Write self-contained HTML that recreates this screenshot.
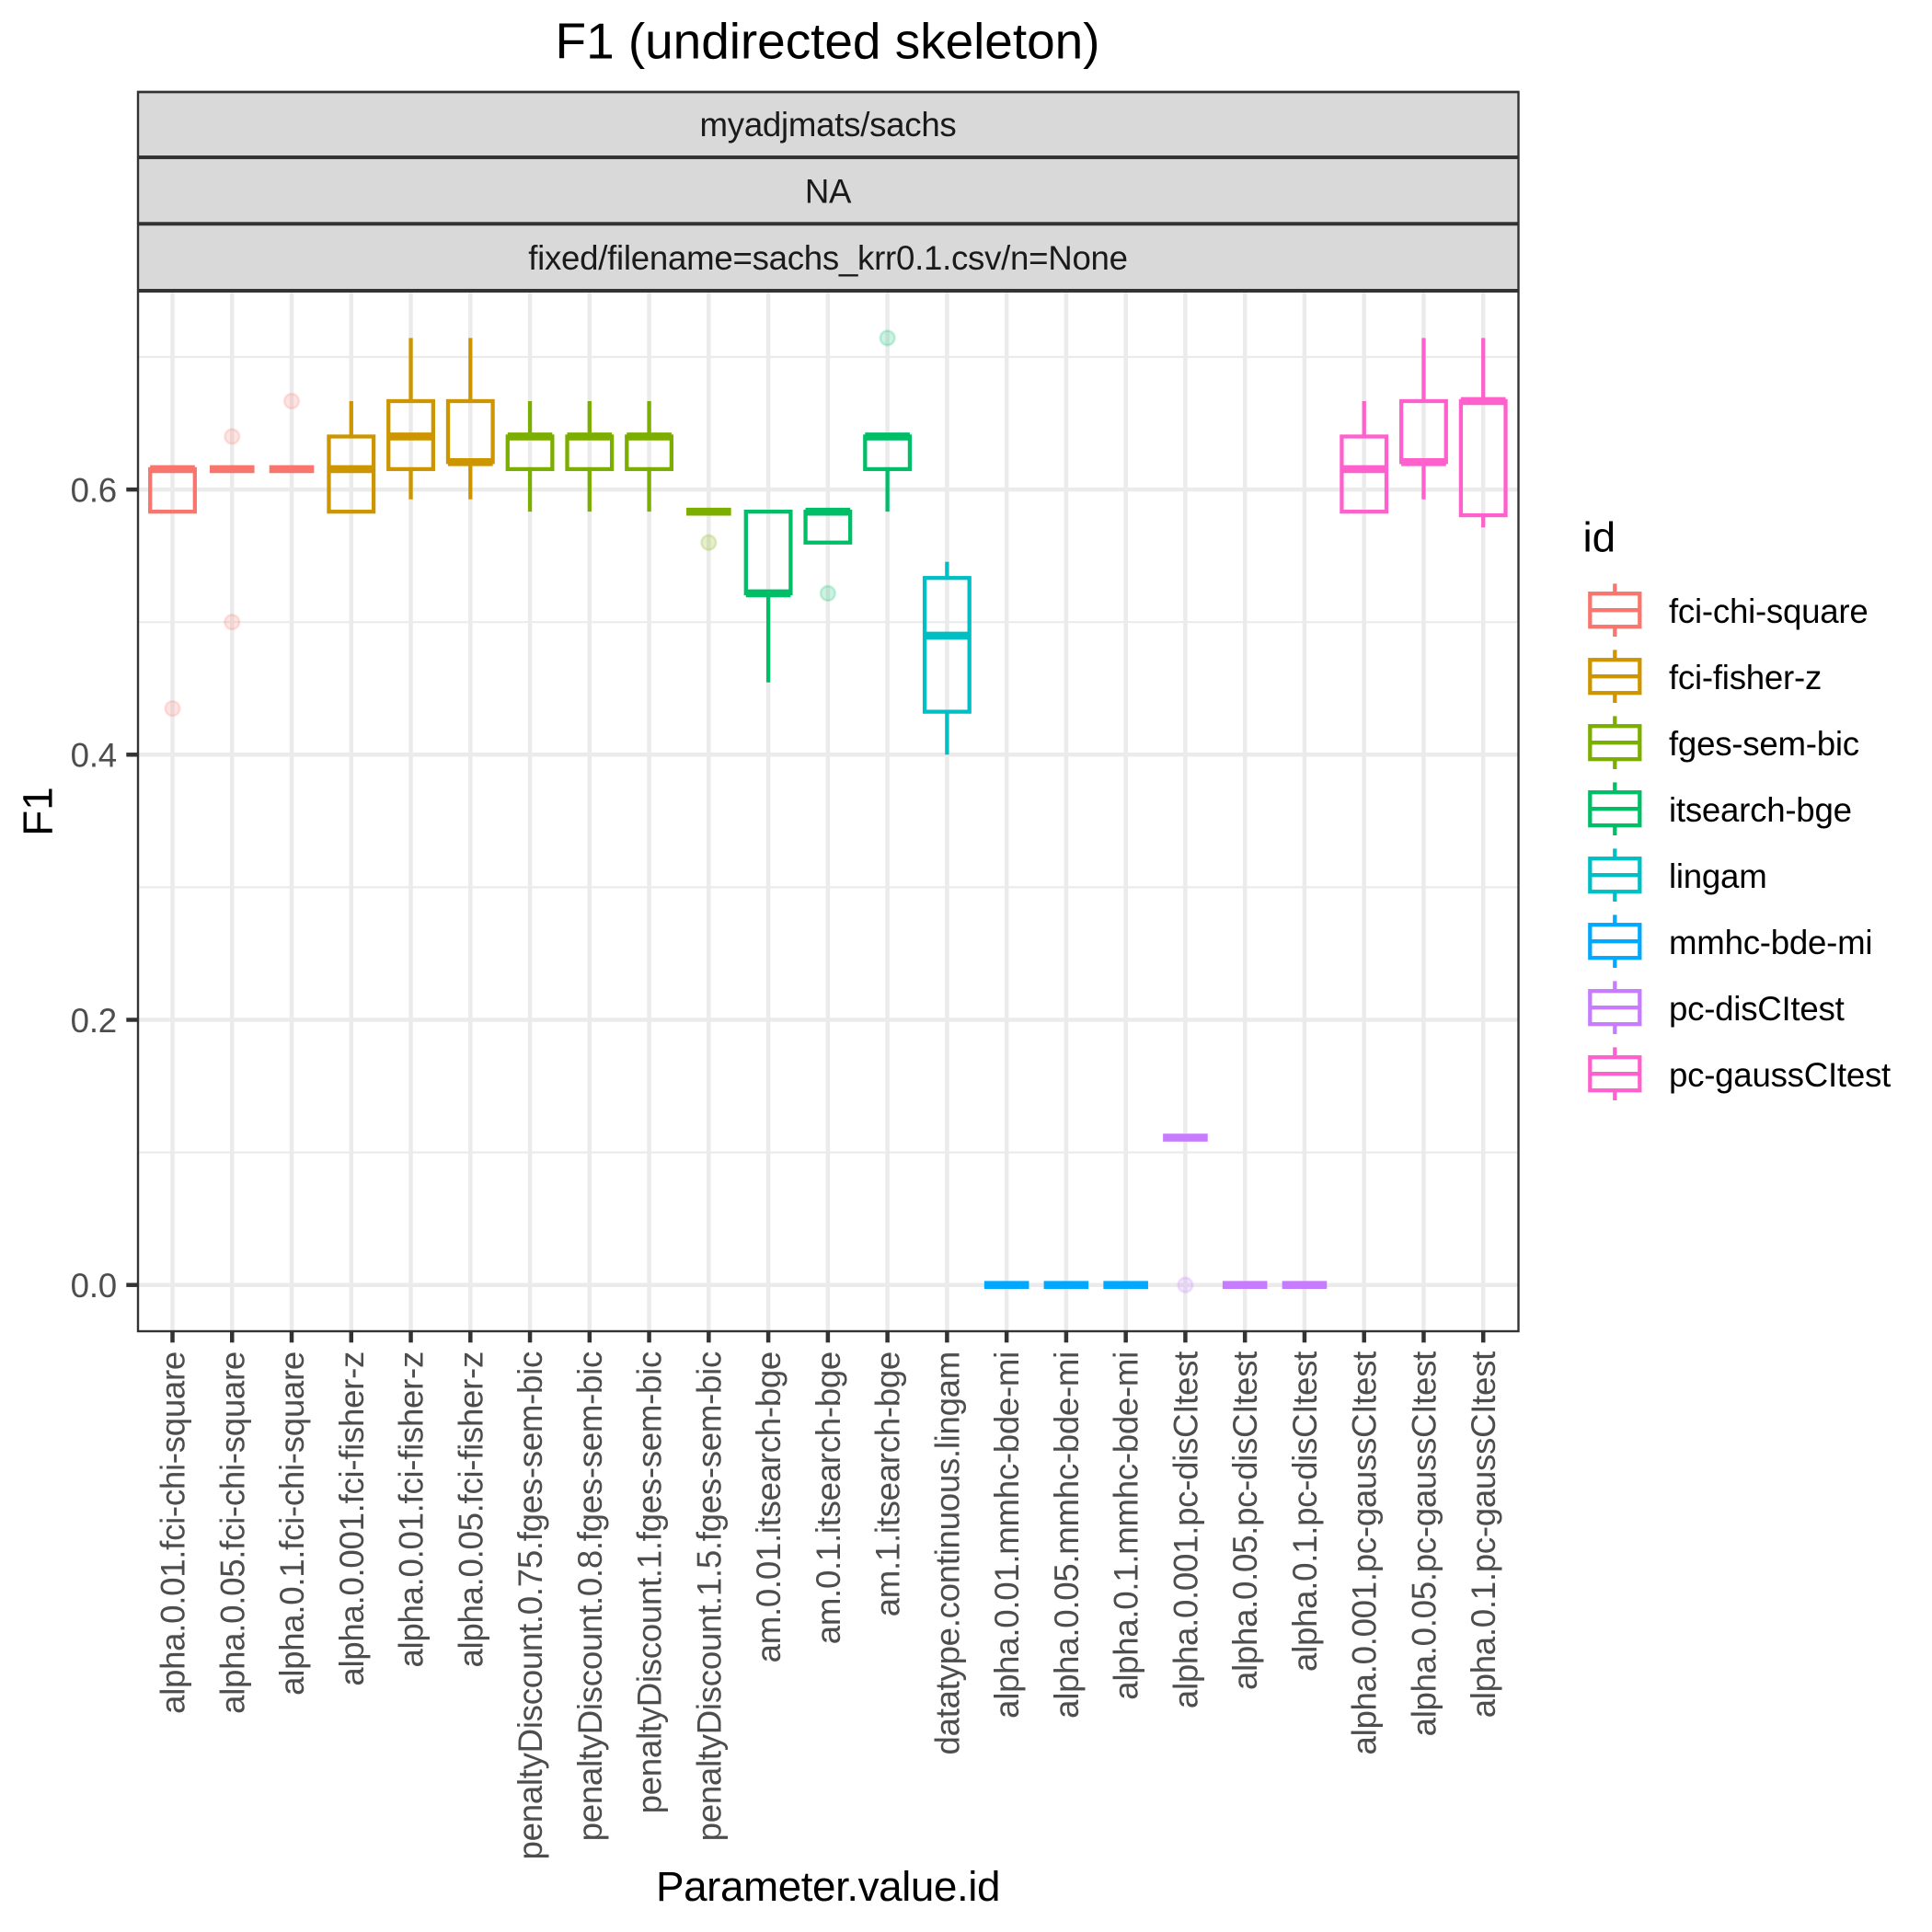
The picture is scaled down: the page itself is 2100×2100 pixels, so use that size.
<!DOCTYPE html>
<html lang="en">
<head>
<meta charset="utf-8">
<title>F1 (undirected skeleton)</title>
<style>
html,body{margin:0;padding:0;background:#fff;}
svg{display:block;font-family:"Liberation Sans",Arial,Helvetica,sans-serif;}
</style>
</head>
<body>
<svg id="chart" xmlns="http://www.w3.org/2000/svg" width="2100" height="2100" viewBox="0 0 2100 2100">
  <rect x="0" y="0" width="2100" height="2100" fill="#ffffff"/>
  <text x="899.5" y="63.5" font-size="55" letter-spacing="-0.05" text-anchor="middle" fill="#000">F1 (undirected skeleton)</text>
  <g id="grid"></g>
  <g id="marks"></g>
  <g>
    <rect x="150" y="100" width="1500.5" height="71.4" fill="#D9D9D9"/>
    <rect x="150" y="171.4" width="1500.5" height="72.3" fill="#D9D9D9"/>
    <rect x="150" y="243.7" width="1500.5" height="72.3" fill="#D9D9D9"/>
    <line x1="149" x2="1651" y1="100" y2="100" stroke="#333" stroke-width="2.4"/>
    <line x1="149" x2="1651" y1="171" y2="171" stroke="#333" stroke-width="4"/>
    <line x1="149" x2="1651" y1="243.2" y2="243.2" stroke="#333" stroke-width="4"/>
    <line x1="149" x2="1651" y1="316" y2="316" stroke="#333" stroke-width="4"/>
    <text x="900" y="148" font-size="36.67" letter-spacing="-0.28" text-anchor="middle" fill="#1A1A1A">myadjmats/sachs</text>
    <text x="900" y="220.5" font-size="36.67" letter-spacing="-0.28" text-anchor="middle" fill="#1A1A1A">NA</text>
    <text x="900" y="293" font-size="36.67" letter-spacing="-0.28" text-anchor="middle" fill="#1A1A1A">fixed/filename=sachs_krr0.1.csv/n=None</text>
  </g>
  <rect x="150" y="100" width="1500.5" height="1347" fill="none" stroke="#333" stroke-width="2.4"/>
  <g id="axes"></g>
  <text x="900" y="2066" font-size="45.83" letter-spacing="-0.45" text-anchor="middle" fill="#000">Parameter.value.id</text>
  <text transform="translate(56.5,882) rotate(-90)" font-size="45.83" text-anchor="middle" fill="#000">F1</text>
  <g id="legend">
    <text x="1720.5" y="599.6" font-size="45.83" fill="#000">id</text>
  </g>
</svg>
<script>
// ---- data ----
const categories = [
  "alpha.0.01.fci-chi-square","alpha.0.05.fci-chi-square","alpha.0.1.fci-chi-square",
  "alpha.0.001.fci-fisher-z","alpha.0.01.fci-fisher-z","alpha.0.05.fci-fisher-z",
  "penaltyDiscount.0.75.fges-sem-bic","penaltyDiscount.0.8.fges-sem-bic","penaltyDiscount.1.fges-sem-bic","penaltyDiscount.1.5.fges-sem-bic",
  "am.0.01.itsearch-bge","am.0.1.itsearch-bge","am.1.itsearch-bge",
  "datatype.continuous.lingam",
  "alpha.0.01.mmhc-bde-mi","alpha.0.05.mmhc-bde-mi","alpha.0.1.mmhc-bde-mi",
  "alpha.0.001.pc-disCItest","alpha.0.05.pc-disCItest","alpha.0.1.pc-disCItest",
  "alpha.0.001.pc-gaussCItest","alpha.0.05.pc-gaussCItest","alpha.0.1.pc-gaussCItest"
];
const seriesIds = ["fci-chi-square","fci-fisher-z","fges-sem-bic","itsearch-bge","lingam","mmhc-bde-mi","pc-disCItest","pc-gaussCItest"];
const seriesColors = ["#F8766D","#CD9600","#7CAE00","#00BE67","#00BFC4","#00A9FF","#C77CFF","#FF61CC"];
const categorySeries = [0,0,0,1,1,1,2,2,2,2,3,3,3,4,5,5,5,6,6,6,7,7,7];
const whiskerLow  = [0.5833,0.6154,0.6154,0.5833,0.5926,0.5926,0.5833,0.5833,0.5833,0.5833,0.4545,0.56,0.5833,0.4,0,0,0,0.1111,0,0,0.5833,0.5926,0.5714];
const quartile1   = [0.5833,0.6154,0.6154,0.5833,0.6154,0.6207,0.6154,0.6154,0.6154,0.5833,0.5217,0.56,0.6154,0.4324,0,0,0,0.1111,0,0,0.5833,0.6207,0.5806];
const medians     = [0.6154,0.6154,0.6154,0.6154,0.64,0.6207,0.64,0.64,0.64,0.5833,0.5217,0.5833,0.64,0.4898,0,0,0,0.1111,0,0,0.6154,0.6207,0.6667];
const quartile3   = [0.6154,0.6154,0.6154,0.64,0.6667,0.6667,0.64,0.64,0.64,0.5833,0.5833,0.5833,0.64,0.5333,0,0,0,0.1111,0,0,0.64,0.6667,0.6667];
const whiskerHigh = [0.6154,0.6154,0.6154,0.6667,0.7143,0.7143,0.6667,0.6667,0.6667,0.5833,0.5833,0.5833,0.64,0.5455,0,0,0,0.1111,0,0,0.6667,0.7143,0.7143];
const outlierCategories = [0,1,1,2,9,11,12,17];
const outlierValues = [0.4348,0.64,0.5,0.6667,0.56,0.5217,0.7143,0];
const yTickValues = [0,0.2,0.4,0.6];
const yTickLabels = ["0.0","0.2","0.4","0.6"];
const yMinorValues = [0.1,0.3,0.5,0.7];

// ---- scales ----
function xScale(index){ return 187.5 + 64.76 * index; }
function yScale(value){ return 1396.7 - 1441 * value; }

const NS = "http://www.w3.org/2000/svg";
function add(tag, attrs, parent){
  const el = document.createElementNS(NS, tag);
  for (const k in attrs) el.setAttribute(k, attrs[k]);
  parent.appendChild(el);
  return el;
}
const gridG = document.getElementById("grid");
const marksG = document.getElementById("marks");
const axesG = document.getElementById("axes");
const legendG = document.getElementById("legend");
const STROKE = 4.3, PANEL_L = 150, PANEL_R = 1650, PANEL_T = 316, PANEL_B = 1447, BOX_HALF = 24.3;

// grid
yMinorValues.forEach(function(v){
  const el = add("line", {x1:PANEL_L,x2:PANEL_R,y1:yScale(v),y2:yScale(v),stroke:"#EBEBEB","stroke-width":2.2}, gridG);
  
  
});
yTickValues.forEach(function(v){
  const el = add("line", {x1:PANEL_L,x2:PANEL_R,y1:yScale(v),y2:yScale(v),stroke:"#EBEBEB","stroke-width":4.5}, gridG);
  
  
});
categories.forEach(function(c,i){
  const el = add("line", {x1:xScale(i),x2:xScale(i),y1:PANEL_T,y2:PANEL_B,stroke:"#EBEBEB","stroke-width":4.5}, gridG);
  
  
});

// outliers
outlierCategories.forEach(function(cat,i){
  const col = seriesColors[categorySeries[cat]];
  const el = add("circle", {cx:xScale(cat),cy:yScale(outlierValues[i]),r:7.9,fill:col,"fill-opacity":0.2,stroke:col,"stroke-opacity":0.2,"stroke-width":2.6}, marksG);
  
  
});

// boxes
categories.forEach(function(c,i){
  const col = seriesColors[categorySeries[i]];
  const x = xScale(i);
  if (whiskerHigh[i] > quartile3[i]) {
    const hi = add("line", {x1:x,x2:x,y1:yScale(whiskerHigh[i]),y2:yScale(quartile3[i]),stroke:col,"stroke-width":STROKE}, marksG);
    
    
  }
  if (whiskerLow[i] < quartile1[i]) {
    const lo = add("line", {x1:x,x2:x,y1:yScale(quartile1[i]),y2:yScale(whiskerLow[i]),stroke:col,"stroke-width":STROKE}, marksG);
    
    
  }
  if (quartile3[i] > quartile1[i]) {
    const box = add("rect", {x:x-BOX_HALF,y:yScale(quartile3[i]),width:BOX_HALF*2,height:yScale(quartile1[i])-yScale(quartile3[i]),fill:"none",stroke:col,"stroke-width":STROKE,"stroke-linejoin":"miter"}, marksG);
    
    
  }
  const med = add("line", {x1:x-BOX_HALF,x2:x+BOX_HALF,y1:yScale(medians[i]),y2:yScale(medians[i]),stroke:col,"stroke-width":STROKE*2}, marksG);
  
  
});

// axes
yTickValues.forEach(function(v,i){
  const t = add("line", {x1:137.3,x2:149.5,y1:yScale(v),y2:yScale(v),stroke:"#333","stroke-width":4.5}, axesG);
  
  
  const l = add("text", {x:127,y:yScale(v)+13.4,"font-size":36.67,"letter-spacing":-0.2,"text-anchor":"end",fill:"#4D4D4D"}, axesG);
  
  
  l.textContent = yTickLabels[i];
});
categories.forEach(function(c,i){
  const x = xScale(i);
  const t = add("line", {x1:x,x2:x,y1:1447.5,y2:1459.3,stroke:"#333","stroke-width":4.5}, axesG);
  
  
  const l = add("text", {transform:"translate("+(x+13)+",1469) rotate(-90)","font-size":36.67,"letter-spacing":-0.3,"text-anchor":"end",fill:"#4D4D4D"}, axesG);
  
  
  l.textContent = c;
});

// legend
seriesIds.forEach(function(name,i){
  const cy = 663.2 + 72 * i, cx = 1755.3, col = seriesColors[i];
  const top = add("line", {x1:cx,x2:cx,y1:cy-28.8,y2:cy-18,stroke:col,"stroke-width":STROKE}, legendG);
  
  
  const bot = add("line", {x1:cx,x2:cx,y1:cy+18,y2:cy+28.8,stroke:col,"stroke-width":STROKE}, legendG);
  
  
  const box = add("rect", {x:cx-27,y:cy-18,width:54,height:36,fill:"#fff",stroke:col,"stroke-width":STROKE}, legendG);
  
  
  const med = add("line", {x1:cx-27,x2:cx+27,y1:cy,y2:cy,stroke:col,"stroke-width":STROKE}, legendG);
  
  
  const lab = add("text", {x:1814,y:cy+14,"font-size":36.67,"letter-spacing":-0.25,fill:"#000"}, legendG);
  
  
  lab.textContent = name;
});
</script>
</body>
</html>
